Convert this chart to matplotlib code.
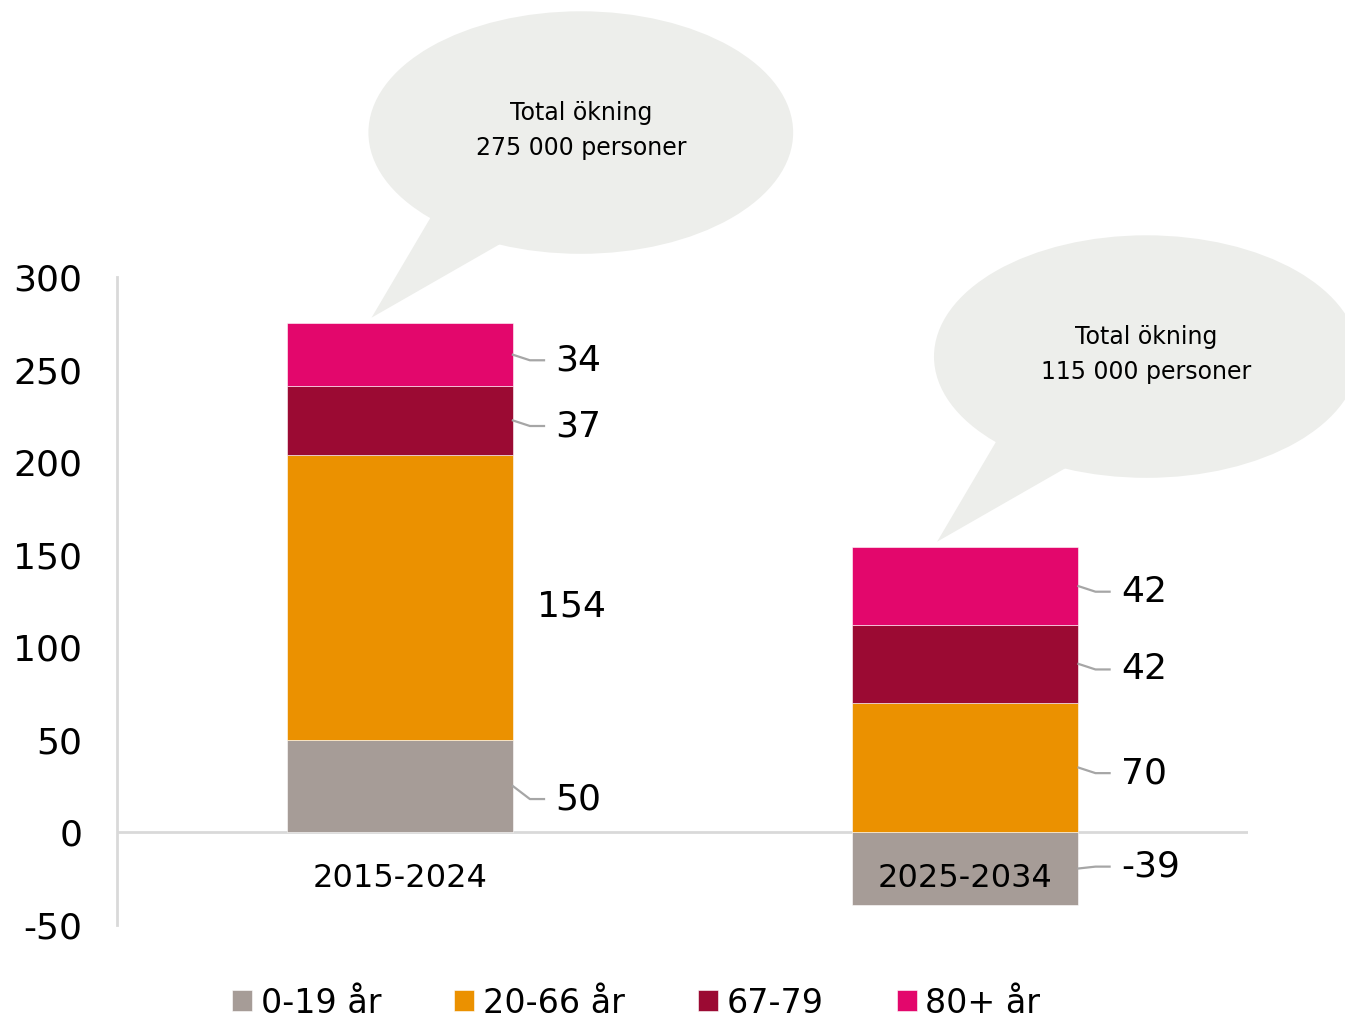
import matplotlib.pyplot as plt
from matplotlib.patches import Ellipse, Polygon

plt.rcParams["axes.unicode_minus"] = False

# data (thousands of persons)
periods = ["2015-2024", "2025-2034"]
groups = ["0-19 år", "20-66 år", "67-79", "80+ år"]
age_0_19 = [50, -39]
age_20_66 = [154, 70]
age_67_79 = [37, 42]
age_80 = [34, 42]
totals = ["275 000", "115 000"]

colors = ["#a69c97", "#eb9100", "#9b0a33", "#e3076c"]
bubble_color = "#edeeeb"
line_gray = "#d9d9d9"
leader_gray = "#a6a6a6"

series = [age_0_19, age_20_66, age_67_79, age_80]

fig = plt.figure(figsize=(13.45, 10.19), dpi=100)
ax = fig.add_axes([0.087, 0.0923, 0.841, 0.6359])

x = list(range(len(periods)))
width = 0.4

pos_base = [0, 0]
neg_base = [0, 0]
mids = []  # (series index, bar index, mid value, value)
for s, vals in enumerate(series):
    bottoms = []
    for i, v in enumerate(vals):
        if v >= 0:
            bottoms.append(pos_base[i])
            pos_base[i] += v
        else:
            bottoms.append(neg_base[i])
            neg_base[i] += v
    ax.bar(x, vals, width, bottom=bottoms, color=colors[s], label=groups[s],
           edgecolor="white", linewidth=0.4, zorder=3)
    for i, v in enumerate(vals):
        mids.append((s, i, bottoms[i] + v / 2, v))

# data labels with small leader lines
for s, i, mid, v in mids:
    edge = i + width / 2
    if s == 1 and i == 0:
        ax.text(edge + 0.042, mid - 5, str(v), fontsize=26, va="center", ha="left")
        continue
    if v < 0:
        nudge = 1
    elif s == 0:
        nudge = -7
    else:
        nudge = -3
    ly = mid + nudge
    ax.plot([edge, edge + 0.03, edge + 0.055], [mid, ly, ly], color=leader_gray,
            lw=1.6, clip_on=False, zorder=4)
    ax.text(edge + 0.075, ly, str(v), fontsize=26, va="center", ha="left")

# zero line and left spine
ax.axhline(0, color=line_gray, lw=2, zorder=2)
for sp in ["top", "right", "bottom"]:
    ax.spines[sp].set_visible(False)
ax.spines["left"].set_color(line_gray)
ax.spines["left"].set_linewidth(2)

ax.set_xlim(-0.5, 1.5)
ax.set_ylim(-50, 300)
ax.set_yticks(range(-50, 301, 50))
ax.tick_params(axis="y", length=0, pad=25, labelsize=26)
ax.set_xticks([])

# category labels
for i, p in enumerate(periods):
    ax.text(i, -25, p, fontsize=23, ha="center", va="center", zorder=5)

# speech bubbles above each bar
for i, t in enumerate(totals):
    top = pos_base[i]
    cx, cy = i + 0.32, top + 103
    tail = Polygon([(i - 0.05, top + 3), (i + 0.06, top + 60), (i + 0.19, top + 45)],
                   closed=True, facecolor=bubble_color, edgecolor="none",
                   clip_on=False, zorder=1)
    ax.add_patch(tail)
    ell = Ellipse((cx, cy), 0.751, 131, facecolor=bubble_color, edgecolor="none",
                  clip_on=False, zorder=1)
    ax.add_patch(ell)
    ax.text(cx, cy + 1, "Total ökning\n" + t + " personer", fontsize=17, ha="center",
            va="center", linespacing=1.6, clip_on=False, zorder=2)

fig.legend(loc="lower center", bbox_to_anchor=(0.473, -0.03), ncol=4, frameon=False,
           fontsize=24, handlelength=0.6, handleheight=0.6, handletextpad=0.25,
           columnspacing=2.2)

plt.savefig("out.png", dpi=100)
